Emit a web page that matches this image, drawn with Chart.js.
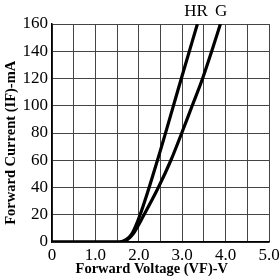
<!DOCTYPE html>
<html><head><meta charset="utf-8">
<script src="https://cdn.jsdelivr.net/npm/chart.js@4"></script>
<style>html,body{margin:0;padding:0;background:#fff}#w{width:280px;height:280px}</style>
</head><body><div id="w"><canvas id="c" width="280" height="280"></canvas></div>
<script>
const seriesNames = ['HR', 'G'];
const hrVoltage = [0, 1.0, 1.55, 1.7, 1.84, 2.03, 2.43, 2.98, 3.35];
const hrCurrent = [0, 0, 0, 1.5, 6, 20, 60, 120, 160];
const gVoltage = [0, 1.0, 1.6, 1.73, 1.87, 2.12, 2.45, 2.74, 2.99, 3.23, 3.47, 3.68, 3.88];
const gCurrent = [0, 0, 0, 1.5, 6, 20, 40, 60, 80, 100, 120, 140, 160];
const labelAt = [3.32, 3.9];
const xTicks = [0, 1, 2, 3, 4, 5];
const yTicks = [0, 20, 40, 60, 80, 100, 120, 140, 160];
const xTitle = 'Forward Voltage (VF)-V';
const yTitle = 'Forward Current (IF)-mA';

const FONT = "'Liberation Serif', serif";
const toPts = (xs, ys) => xs.map((x, i) => ({x, y: ys[i]}));

const textPlugin = {
  id: 'textPlugin',
  afterDraw(chart) {
    const ctx = chart.ctx, xs = chart.scales.x, a = chart.chartArea;
    ctx.save();
    ctx.fillStyle = '#000';
    ctx.textAlign = 'center';
    ctx.font = "17px " + FONT;
    ctx.textBaseline = 'bottom';
    seriesNames.forEach((n, i) => ctx.fillText(n, xs.getPixelForValue(labelAt[i]), a.top - 4));
    ctx.font = "bold 14.5px " + FONT;
    ctx.textBaseline = 'middle';
    ctx.fillText(xTitle, a.left + (a.right - a.left) * 0.46, a.bottom + 27);
    ctx.translate(11, a.top + (a.bottom - a.top) * 0.545);
    ctx.rotate(-Math.PI / 2);
    ctx.fillText(yTitle, 0, 0);
    ctx.restore();
  }
};

new Chart(document.getElementById('c'), {
  type: 'line',
  data: {
    datasets: [
      {label: seriesNames[0], data: toPts(hrVoltage, hrCurrent)},
      {label: seriesNames[1], data: toPts(gVoltage, gCurrent)}
    ].map(d => Object.assign(d, {borderColor: '#000', borderWidth: 3.2, pointRadius: 0, fill: false, cubicInterpolationMode: 'monotone'}))
  },
  options: {
    responsive: false,
    animation: false,
    layout: {padding: {left: 0, right: 11, top: 24, bottom: 0}},
    plugins: {legend: {display: false}, tooltip: {enabled: false}},
    scales: {
      x: {
        type: 'linear', min: 0, max: 5,
        afterFit(s) { s.height = 38; s.paddingLeft = 0; s.paddingRight = 0; },
        afterBuildTicks(s) { s.ticks = []; for (let v = 0; v <= 10; v++) s.ticks.push({value: v * 0.5}); },
        grid: {color: '#444', lineWidth: 1, drawTicks: false},
        border: {color: '#000', width: 1.5},
        ticks: {
          padding: 3, color: '#000', font: {family: FONT, size: 17}, maxRotation: 0, autoSkip: false,
          callback: v => xTicks.includes(v) ? (v === 0 ? '0' : v.toFixed(1)) : ''
        }
      },
      y: {
        min: 0, max: 160,
        afterFit(s) { s.width = 52; },
        afterBuildTicks(s) { s.ticks = yTicks.map(v => ({value: v})); },
        grid: {color: '#444', lineWidth: 1, drawTicks: false},
        border: {color: '#000', width: 1.5},
        ticks: {padding: 4, color: '#000', font: {family: FONT, size: 17}, autoSkip: false}
      }
    }
  },
  plugins: [textPlugin]
});
</script></body></html>
